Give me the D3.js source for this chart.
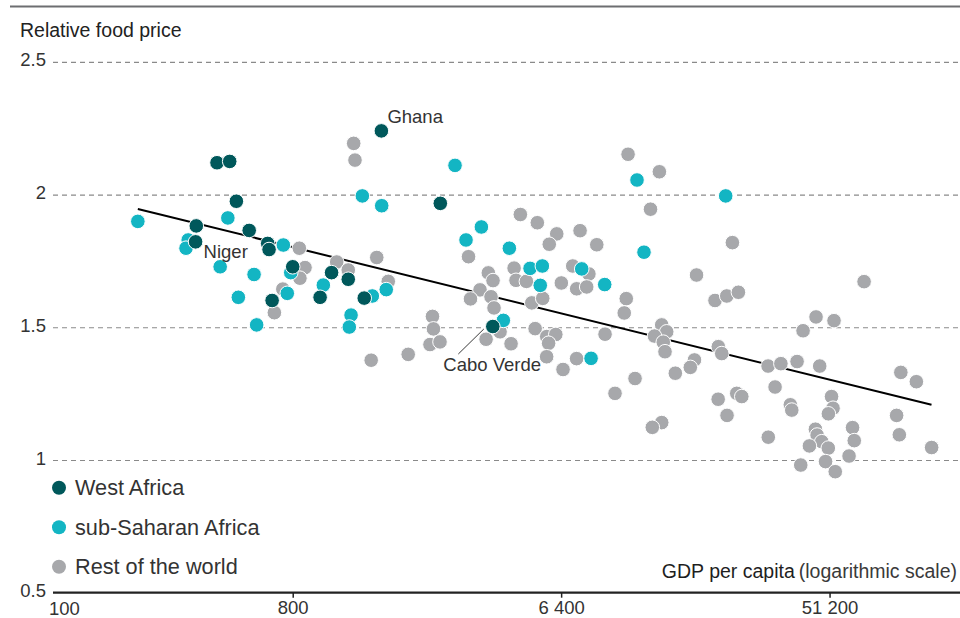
<!DOCTYPE html>
<html>
<head>
<meta charset="utf-8">
<script src="https://cdn.jsdelivr.net/npm/d3@7"></script>
<style>
  html, body { margin: 0; padding: 0; background: #fff; }
  svg { display: block; font-family: "Liberation Sans", Arial, Helvetica, sans-serif; }
</style>
</head>
<body>
<div id="chart"></div>
<script>
// West Africa
const westGdp = [1590, 445, 491, 517, 2510, 379, 377, 571, 659, 666, 800, 682, 989, 1081, 1230, 1392, 3770];
const westPrice = [2.24, 2.12, 2.125, 1.975, 1.967, 1.882, 1.822, 1.865, 1.816, 1.793, 1.728, 1.601, 1.613, 1.706, 1.681, 1.61, 1.503];

// sub-Saharan Africa
const ssaGdp = [241, 356, 350, 484, 456, 593, 525, 605, 744, 788, 767, 1014, 1257, 1240, 1482, 1651, 1372, 1594,
  2813, 3063, 3450, 4285, 4090, 5031, 5533, 5444, 7507, 8070, 8970, 11520, 12160, 22900];
const ssaPrice = [1.899, 1.829, 1.798, 1.912, 1.728, 1.699, 1.613, 1.509, 1.81, 1.706, 1.628, 1.659, 1.546, 1.501, 1.618, 1.642, 1.995, 1.958,
  2.11, 1.829, 1.878, 1.798, 1.526, 1.722, 1.731, 1.658, 1.72, 1.383, 1.661, 2.055, 1.783, 1.995];

// Rest of the world
const restGdp = [1283, 1296, 842, 880, 846, 741, 694, 1125, 1230, 1534, 1677, 1469, 1957, 2362, 2380, 2317, 2504,
  3123, 3641, 3776, 3414, 3171, 3718, 3805, 3578, 3987, 4342, 4666, 5322, 6186, 5837, 7411, 8435, 4445, 4512,
  4890, 6410, 7002, 7936, 7219, 7802, 5098, 5549, 5232, 5725, 6141, 5808, 5720, 7213, 6494, 8993, 10600, 10434,
  9715, 11346, 10748, 13700, 12790, 18270, 24120, 21080, 23090, 25270, 13950, 14500, 13190, 14120, 14310, 17980,
  17410, 15500, 13950, 12970, 21630, 22210, 21600, 24950, 25940, 23140, 31800, 35120, 39810, 47440, 33570, 37790,
  38210, 31850, 41700, 46110, 53000, 51990, 52600, 50740, 45880, 46490, 48200, 43800, 50700, 40960, 49640, 53510,
  61180, 62000, 59550, 88940, 100300, 86070, 87910, 112900, 66900];
const restPrice = [2.193, 2.13, 1.798, 1.725, 1.685, 1.644, 1.555, 1.746, 1.716, 1.763, 1.673, 1.376, 1.398, 1.541, 1.494, 1.435, 1.445,
  1.766, 1.705, 1.676, 1.641, 1.607, 1.615, 1.573, 1.455, 1.483, 1.438, 1.925, 1.894, 1.852, 1.813, 1.864, 1.811, 1.723, 1.677,
  1.673, 1.667, 1.731, 1.701, 1.645, 1.652, 1.592, 1.609, 1.495, 1.465, 1.473, 1.44, 1.389, 1.382, 1.341, 1.474, 1.608, 1.554,
  1.251, 1.307, 2.152, 2.086, 1.945, 1.697, 1.819, 1.601, 1.618, 1.632, 1.509, 1.483, 1.467, 1.444, 1.408, 1.377,
  1.349, 1.327, 1.141, 1.123, 1.427, 1.401, 1.229, 1.251, 1.239, 1.168, 1.354, 1.363, 1.371, 1.354, 1.275, 1.208,
  1.188, 1.086, 1.487, 1.539, 1.525, 1.239, 1.195, 1.174, 1.116, 1.094, 1.069, 1.053, 1.045, 0.981, 0.994, 0.956,
  1.122, 1.073, 1.015, 1.33, 1.295, 1.168, 1.095, 1.047, 1.672];

// trend line (fit in log space), end points
const trendGdp = [241, 112800];
const trendPrice = [1.946, 1.208];

// axes
const yTicks = [0.5, 1, 1.5, 2, 2.5];
const xTicks = [800, 6400, 51200];
const xStartLabel = "100";

const seriesNames = ["West Africa", "sub-Saharan Africa", "Rest of the world"];
const seriesColors = ["#00585b", "#13b5c3", "#a7a8ab"];

// labelled countries
const labelNames = ["Ghana", "Niger", "Cabo Verde"];

// ---------------------------------------------------------------
const width = 960;
const height = 618;
const plotLeft = 53;
const fontSize = 18.5;
const titleSize = 19.5;

const svg = d3.select("#chart")
  .append("svg")
  .attr("width", width)
  .attr("height", height);

// log2 spacing of ~89.5px per doubling
const x = d3.scaleLog()
  .domain([100, 140000])
  .range([24.3, 959.4]);

const y = d3.scaleLinear()
  .domain([0.5, 2.5])
  .range([592.7, 61.9]);

// top rule
svg.append("line")
  .attr("x1", 10).attr("x2", width)
  .attr("y1", 6.5).attr("y2", 6.5)
  .attr("stroke", "#6d6e71")
  .attr("stroke-width", 2);

// title
svg.append("text")
  .attr("x", 20)
  .attr("y", 36.5)
  .attr("fill", "#222")
  .style("font-size", titleSize + "px")
  .text("Relative food price");

// y axis + dashed grid
const yAxis = svg.append("g")
  .attr("transform", `translate(${plotLeft},0)`)
  .call(d3.axisLeft(y)
    .tickValues(yTicks)
    .tickSize(-(width - plotLeft))
    .tickPadding(7)
    .tickFormat(d => String(d)));
yAxis.select(".domain").remove();
yAxis.selectAll(".tick line")
  .attr("stroke", "#8a8a8a")
  .attr("stroke-width", 1.1)
  .attr("stroke-dasharray", "5,4")
  .attr("opacity", d => d === 0.5 ? 0 : 1);
yAxis.selectAll(".tick text")
  .attr("fill", "#333")
  .attr("dy", "0.22em")
  .style("font-size", fontSize + "px")
  .style("font-family", "inherit");

// x axis
const xAxis = svg.append("g")
  .attr("transform", `translate(0,${y(0.5)})`)
  .call(d3.axisBottom(x)
    .tickValues(xTicks)
    .tickSize(5)
    .tickPadding(3.5)
    .tickFormat(d => d3.format(",")(d).replace(/,/g, " ")));
xAxis.select(".domain").remove();
xAxis.selectAll(".tick line").attr("stroke", "#222").attr("stroke-width", 1.5);
xAxis.selectAll(".tick text")
  .attr("fill", "#333")
  .style("font-size", fontSize + "px")
  .style("font-family", "inherit");

svg.append("line")
  .attr("x1", plotLeft).attr("x2", width)
  .attr("y1", y(0.5)).attr("y2", y(0.5))
  .attr("stroke", "#222")
  .attr("stroke-width", 2.2);

svg.append("text")
  .attr("x", 49)
  .attr("y", 614.5)
  .attr("fill", "#333")
  .style("font-size", fontSize + "px")
  .text(xStartLabel);

// x axis title
const xTitle = svg.append("text")
  .attr("x", 957)
  .attr("y", 578)
  .attr("text-anchor", "end")
  .style("font-size", titleSize + "px");
xTitle.append("tspan").attr("fill", "#1e1e1e").text("GDP per capita");
xTitle.append("tspan").attr("fill", "#3a3a3a").attr("dx", 4).text("(logarithmic scale)");

// trend line
svg.append("path")
  .datum(d3.zip(trendGdp, trendPrice))
  .attr("fill", "none")
  .attr("stroke", "#000")
  .attr("stroke-width", 2)
  .attr("d", d3.line().x(d => x(d[0])).y(d => y(d[1])));

// dots: grey first, then sub-Saharan, then West Africa on top
const groups = [
  { gdp: restGdp, price: restPrice, color: seriesColors[2] },
  { gdp: ssaGdp, price: ssaPrice, color: seriesColors[1] },
  { gdp: westGdp, price: westPrice, color: seriesColors[0] }
];
groups.forEach(g => {
  svg.append("g")
    .selectAll("circle")
    .data(d3.zip(g.gdp, g.price))
    .join("circle")
    .attr("cx", d => x(d[0]))
    .attr("cy", d => y(d[1]))
    .attr("r", 7.3)
    .attr("fill", g.color)
    .attr("stroke", "#fff")
    .attr("stroke-width", 1);
});

// country labels
const ghana = [westGdp[0], westPrice[0]];
const niger = [westGdp[6], westPrice[6]];
const cabo = [westGdp[16], westPrice[16]];
const labelStyle = sel => sel.attr("fill", "#333").style("font-size", fontSize + "px");

svg.append("text").call(labelStyle)
  .attr("x", x(ghana[0]) + 6).attr("y", y(ghana[1]) - 8)
  .text(labelNames[0]);
svg.append("text").call(labelStyle)
  .attr("x", x(niger[0]) + 8).attr("y", y(niger[1]) + 16.5)
  .text(labelNames[1]);
svg.append("line")
  .attr("x1", x(cabo[0]) - 34.5).attr("y1", y(cabo[1]) + 27.5)
  .attr("x2", x(cabo[0]) - 9).attr("y2", y(cabo[1]) + 2.5)
  .attr("stroke", "#222")
  .attr("stroke-width", 0.9);
svg.append("text").call(labelStyle)
  .attr("x", x(cabo[0]) - 49.5).attr("y", y(cabo[1]) + 44)
  .text(labelNames[2]);

// legend
const legend = svg.append("g")
  .selectAll("g")
  .data(seriesNames)
  .join("g")
  .attr("transform", (d, i) => `translate(59,${[487.7, 527.2, 566.7][i]})`);
legend.append("circle")
  .attr("r", 7)
  .attr("fill", (d, i) => seriesColors[i]);
legend.append("text")
  .attr("x", 16)
  .attr("y", 7.5)
  .attr("fill", "#333")
  .style("font-size", "21.7px")
  .text(d => d);
</script>
</body>
</html>
